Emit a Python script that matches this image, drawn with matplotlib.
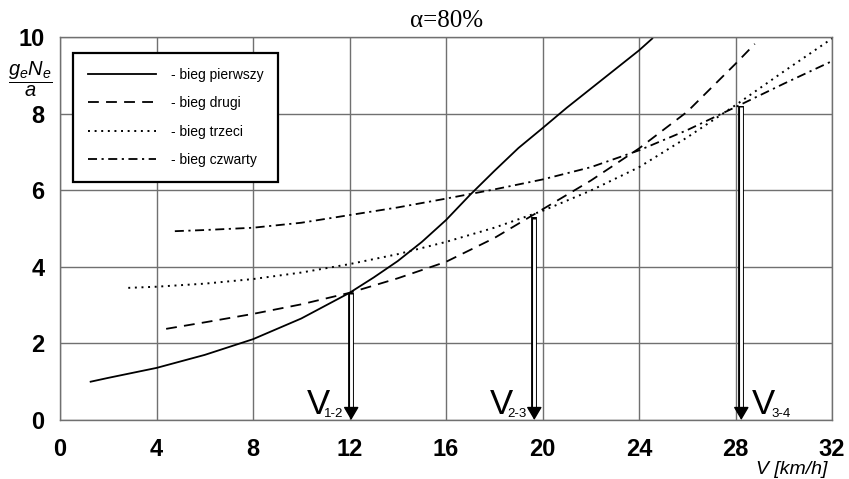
import matplotlib
matplotlib.use("Agg")
from matplotlib import pyplot as plt

# curves: V [km/h] vs g_e*N_e/a
v_bieg1 = [1.27, 2, 4, 6, 8, 10, 12, 13, 14, 15, 16, 17, 18, 19, 20, 21, 22, 23, 24, 24.55]
y_bieg1 = [1.0, 1.1, 1.36, 1.7, 2.11, 2.65, 3.32, 3.72, 4.15, 4.65, 5.22, 5.88, 6.5, 7.1, 7.62, 8.15, 8.65, 9.15, 9.65, 9.96]

v_bieg2 = [4.4, 6, 8, 10, 12, 14, 16, 18, 20, 22, 24, 26, 28, 28.8]
y_bieg2 = [2.38, 2.55, 2.77, 3.02, 3.32, 3.7, 4.13, 4.75, 5.5, 6.25, 7.09, 8.05, 9.3, 9.82]

v_bieg3 = [2.83, 4, 6, 8, 10, 12, 14, 16, 18, 20, 22, 24, 26, 28, 30, 32]
y_bieg3 = [3.45, 3.48, 3.56, 3.68, 3.85, 4.07, 4.33, 4.65, 5.02, 5.46, 5.99, 6.6, 7.38, 8.22, 9.1, 9.96]

v_bieg4 = [4.76, 6, 8, 10, 12, 14, 16, 18, 20, 22, 24, 26, 28, 30, 32]
y_bieg4 = [4.93, 4.96, 5.02, 5.15, 5.35, 5.55, 5.78, 6.02, 6.28, 6.6, 7.04, 7.57, 8.17, 8.78, 9.37]

labels = ["- bieg pierwszy", "- bieg drugi", "- bieg trzeci", "- bieg czwarty"]

# shift points (curve crossings)
shift_v = [12.07, 19.66, 28.24]
shift_y = [3.32, 5.3, 8.2]
shift_sub = ["1-2", "2-3", "3-4"]

x_ticks = [0, 4, 8, 12, 16, 20, 24, 28, 32]
y_ticks = [0, 2, 4, 6, 8, 10]

GRID = "#707070"

plt.rcParams['font.family'] = ['Liberation Sans', 'DejaVu Sans']
plt.rcParams['mathtext.fontset'] = 'custom'
plt.rcParams['mathtext.it'] = 'Liberation Sans:italic'
plt.rcParams['mathtext.rm'] = 'Liberation Sans'

fig = plt.figure(figsize=(8.49, 4.79), dpi=100)
ax = fig.add_axes([60 / 849, 59 / 479, 772 / 849, 383 / 479])

ax.plot(v_bieg1, y_bieg1, color='black', linewidth=1.3, linestyle='-', label=labels[0])
ax.plot(v_bieg2, y_bieg2, color='black', linewidth=1.3, linestyle=(0, (6, 4)), label=labels[1])
ax.plot(v_bieg3, y_bieg3, color='black', linewidth=1.4, linestyle=(0, (1, 2.4)), label=labels[2])
ax.plot(v_bieg4, y_bieg4, color='black', linewidth=1.3, linestyle=(0, (5, 2.5, 1.2, 2.5)), label=labels[3])

# arrows: hollow shaft + filled head
head = 0.27
for v, top, sub, i in zip(shift_v, shift_y, shift_sub, range(3)):
    ax.plot([v, v], [top, head], color='black', linewidth=4.2, solid_capstyle='butt', zorder=4)
    ax.plot([v, v], [top - 0.04, head - 0.02], color='white', linewidth=2.1, solid_capstyle='butt', zorder=5)
    ax.annotate('', xy=(v, 0), xytext=(v, head + 0.05),
                arrowprops=dict(arrowstyle='-|>,head_length=0.8,head_width=0.47', color='black',
                                lw=1, shrinkA=0, shrinkB=0, mutation_scale=10), zorder=6)
    if i < 2:
        ax.annotate('V', xy=(v, 0), xytext=(-15, 4.5), textcoords='offset points',
                    ha='right', va='baseline', fontsize=25)
        ax.annotate(sub, xy=(v, 0), xytext=(-19.5, 2.2), textcoords='offset points',
                    ha='left', va='baseline', fontsize=9.5)
    else:
        ax.annotate('V', xy=(v, 0), xytext=(7.5, 4.5), textcoords='offset points',
                    ha='left', va='baseline', fontsize=25)
        ax.annotate(sub, xy=(v, 0), xytext=(22, 2.2), textcoords='offset points',
                    ha='left', va='baseline', fontsize=9.5)

ax.set_xlim(0, 32)
ax.set_ylim(0, 10)
ax.set_xticks(x_ticks)
ax.set_yticks(y_ticks)
ax.set_xticklabels([str(t) for t in x_ticks], fontsize=17, fontweight='bold')
ax.set_yticklabels([str(t) for t in y_ticks], fontsize=17, fontweight='bold')
ax.tick_params(axis='x', length=0, pad=13)
ax.tick_params(axis='y', length=0, pad=11)
ax.grid(True, color=GRID, linewidth=1.0)
ax.set_axisbelow(True)
for spine in ax.spines.values():
    spine.set_color(GRID)
    spine.set_linewidth(1.0)

leg = ax.legend(loc='upper left', bbox_to_anchor=(13 / 772, 1 - 16 / 383), fontsize=10,
                frameon=True, fancybox=False, edgecolor='black', framealpha=1,
                handlelength=4.9, handletextpad=1.1, labelspacing=1.05, borderpad=1.05,
                borderaxespad=0)
leg.get_frame().set_linewidth(1.6)
leg.set_zorder(10)

fig.text(447 / 849, 1 - 27 / 479, 'α=80%', family='Liberation Serif', fontsize=18,
         ha='center', va='baseline')
fig.text(827 / 849, 1 - 474 / 479, 'V [km/h]', fontsize=14, style='italic',
         ha='right', va='baseline')
fig.text(30 / 849, 1 - 79 / 479, r'$\dfrac{g_eN_e}{a}$', fontsize=14.5,
         ha='center', va='center')

plt.savefig('out.png', dpi=100)
plt.clf()
